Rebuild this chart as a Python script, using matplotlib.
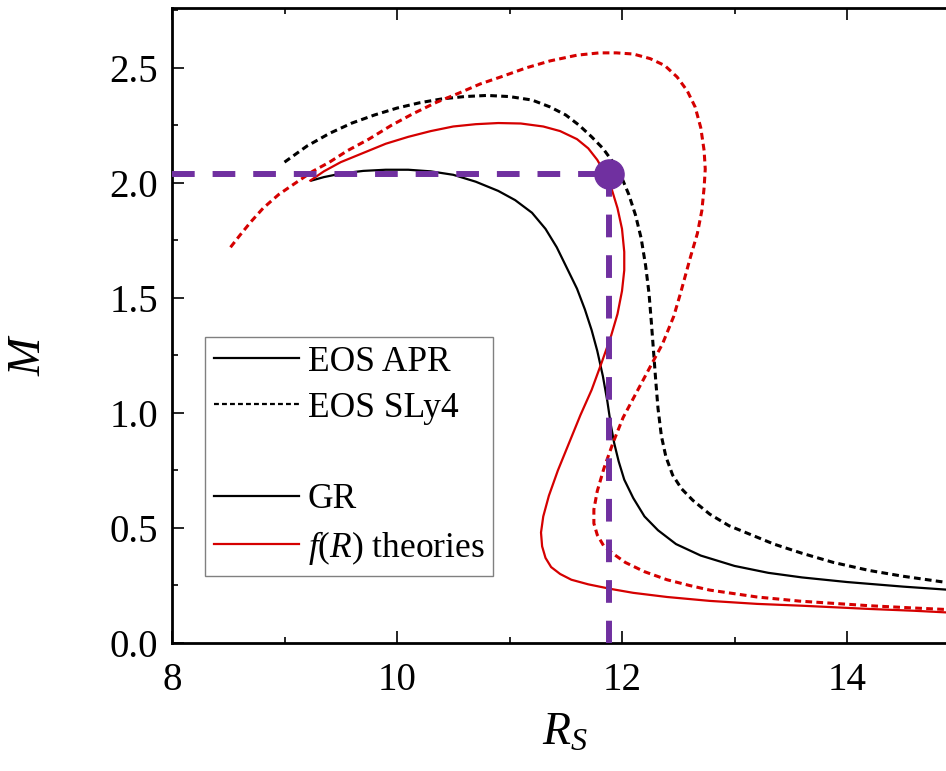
import matplotlib
matplotlib.use("Agg")
import matplotlib.pyplot as plt
from matplotlib.lines import Line2D
from matplotlib.ticker import FixedLocator, MultipleLocator, FormatStrFormatter

plt.rcParams['font.family'] = ['Liberation Serif', 'DejaVu Serif']
plt.rcParams['mathtext.fontset'] = 'custom'
plt.rcParams['mathtext.rm'] = 'Liberation Serif'
plt.rcParams['mathtext.it'] = 'Liberation Serif:italic'

# GR, EOS APR (black solid)
gr_apr_r = [9.24, 9.35, 9.5, 9.7, 9.9, 10.1, 10.3, 10.5, 10.7, 10.9, 11.05, 11.2, 11.32,
            11.42, 11.52, 11.6, 11.67, 11.73, 11.78, 11.83, 11.87, 11.9, 11.93, 11.97,
            12.02, 12.1, 12.2, 12.32, 12.48, 12.7, 13.0, 13.3, 13.6, 14.0, 14.5, 15.0]
gr_apr_m = [2.01, 2.025, 2.04, 2.052, 2.057, 2.057, 2.05, 2.035, 2.005, 1.965, 1.925, 1.87, 1.80,
            1.72, 1.62, 1.54, 1.45, 1.36, 1.27, 1.16, 1.05, 0.95, 0.87, 0.79,
            0.71, 0.63, 0.55, 0.49, 0.43, 0.38, 0.335, 0.305, 0.285, 0.265, 0.245, 0.228]

# GR, EOS SLy4 (black dashed)
gr_sly_r = [9.0, 9.2, 9.4, 9.6, 9.8, 10.0, 10.2, 10.4, 10.6, 10.8, 11.0, 11.2, 11.36,
            11.5, 11.62, 11.73, 11.83, 11.92, 12.0, 12.06, 12.12, 12.17, 12.21, 12.24,
            12.26, 12.28, 12.3, 12.32, 12.35, 12.39, 12.45, 12.53, 12.63, 12.78, 12.95,
            13.15, 13.35, 13.6, 13.88, 14.2, 14.5, 15.0]
gr_sly_m = [2.09, 2.16, 2.215, 2.26, 2.295, 2.325, 2.348, 2.365, 2.375, 2.38, 2.375, 2.36, 2.33,
            2.295, 2.25, 2.2, 2.15, 2.09, 2.02, 1.95, 1.86, 1.76, 1.64, 1.52,
            1.40, 1.27, 1.14, 1.02, 0.9, 0.81, 0.73, 0.67, 0.62, 0.56, 0.51,
            0.47, 0.43, 0.39, 0.35, 0.315, 0.29, 0.255]

# f(R), EOS APR (red solid)
fr_apr_r = [9.23, 9.35, 9.5, 9.7, 9.9, 10.1, 10.3, 10.5, 10.7, 10.9, 11.1, 11.3, 11.45,
            11.6, 11.7, 11.78, 11.85, 11.91, 11.96, 12.0, 12.02, 12.02, 12.0, 11.96, 11.9,
            11.82, 11.73, 11.63, 11.53, 11.43, 11.35, 11.3, 11.28, 11.29, 11.32, 11.37,
            11.45, 11.55, 11.7, 11.9, 12.1, 12.4, 12.78, 13.2, 13.6, 14.2, 14.6, 15.0]
fr_apr_m = [2.01, 2.05, 2.09, 2.13, 2.17, 2.2, 2.225, 2.245, 2.255, 2.26, 2.258, 2.245, 2.225,
            2.19, 2.15, 2.10, 2.04, 1.97, 1.89, 1.8, 1.7, 1.62, 1.53, 1.43, 1.33,
            1.22, 1.1, 0.99, 0.87, 0.75, 0.64, 0.55, 0.48, 0.42, 0.37, 0.33,
            0.3, 0.275, 0.255, 0.235, 0.218, 0.2, 0.183, 0.17, 0.162, 0.148, 0.14, 0.13]

# f(R), EOS SLy4 (red dashed)
fr_sly_r = [8.52, 8.6, 8.7, 8.81, 8.95, 9.1, 9.25, 9.4, 9.56, 9.75, 9.95, 10.14, 10.35,
            10.55, 10.74, 10.92, 11.15, 11.36, 11.6, 11.8, 11.95, 12.1, 12.25, 12.38, 12.49,
            12.58, 12.65, 12.7, 12.73, 12.74, 12.73, 12.71, 12.67, 12.61, 12.52, 12.46,
            12.36, 12.25, 12.13, 12.01, 11.92, 11.84, 11.78, 11.75, 11.75, 11.78, 11.84,
            11.93, 12.03, 12.2, 12.4, 12.6, 12.78, 13.2, 13.58, 14.2, 14.6, 15.0]
fr_sly_m = [1.72, 1.77, 1.83, 1.89, 1.95, 2.0, 2.05, 2.09, 2.14, 2.19, 2.25, 2.30, 2.35,
            2.39, 2.43, 2.46, 2.50, 2.53, 2.555, 2.565, 2.565, 2.56, 2.54, 2.51, 2.46,
            2.40, 2.33, 2.24, 2.14, 2.06, 1.98, 1.88, 1.78, 1.68, 1.52, 1.42,
            1.3, 1.2, 1.09, 0.98, 0.87, 0.76, 0.66, 0.58, 0.52, 0.47, 0.42,
            0.385, 0.35, 0.31, 0.275, 0.25, 0.23, 0.2, 0.182, 0.162, 0.152, 0.143]

# highlighted star
star_r = 11.885
star_m = 2.04

red = '#D50000'
purple = '#7030A0'

fig = plt.figure(figsize=(9.46, 7.71), dpi=100)
ax = fig.add_axes([172 / 946, 128 / 771, 900 / 946, 635 / 771])

ax.plot(gr_apr_r, gr_apr_m, color='black', lw=1.6, zorder=3)
ax.plot(gr_sly_r, gr_sly_m, color='black', lw=2.2, dashes=(2.2, 1.4), zorder=3)
ax.plot(fr_apr_r, fr_apr_m, color=red, lw=1.6, zorder=3)
ax.plot(fr_sly_r, fr_sly_m, color=red, lw=2.2, dashes=(2.2, 1.4), zorder=3)

ax.plot([8, star_r], [star_m, star_m], color=purple, lw=4.3, dashes=(3.8, 3.0),
        dash_capstyle='butt', zorder=4, clip_on=False)
ax.plot([star_r, star_r], [star_m, 0], color=purple, lw=4.3, dashes=(3.8, 3.0),
        dash_capstyle='butt', zorder=4)
ax.plot([star_r], [star_m], 'o', color=purple, ms=21, zorder=5)

ax.set_xlim(8, 16)
ax.set_ylim(0, 2.76)
ax.xaxis.set_major_locator(FixedLocator([8, 10, 12, 14]))
ax.xaxis.set_minor_locator(FixedLocator([9, 11, 13, 15]))
ax.yaxis.set_major_locator(MultipleLocator(0.5))
ax.yaxis.set_minor_locator(MultipleLocator(0.25))
ax.yaxis.set_major_formatter(FormatStrFormatter('%.1f'))

ax.tick_params(which='both', direction='in', top=True, right=True, width=1.2)
ax.tick_params(which='major', length=8.6, labelsize=28)
ax.tick_params(axis='x', which='major', pad=14)
ax.tick_params(axis='y', which='major', pad=10)
ax.tick_params(which='minor', length=4.5)
for sp in ax.spines.values():
    sp.set_linewidth(2)

ax.set_xlabel('$R_S$', fontsize=33)
ax.set_ylabel('$M$', fontsize=33)
ax.xaxis.set_label_coords((565 - 172) / 900, -(712 - 643) / 635)
ax.yaxis.set_label_coords(-(172 - 50) / 900, (643 - 355) / 635)

handles = [
    Line2D([], [], color='black', lw=1.6),
    Line2D([], [], color='black', lw=1.6, dashes=(2.2, 1.4)),
    Line2D([], [], color='none'),
    Line2D([], [], color='black', lw=1.6),
    Line2D([], [], color=red, lw=1.6),
]
labels = ['EOS APR', 'EOS SLy4', '', 'GR', r'$\mathit{f(R)}$ theories']
leg = ax.legend(handles, labels, loc='upper left',
                bbox_to_anchor=((205 - 172) / 900, (643 - 337) / 635),
                fontsize=25.5, frameon=True, fancybox=False, framealpha=1,
                edgecolor='#808080', borderaxespad=0, borderpad=0.25,
                labelspacing=0.36, handlelength=2.4, handletextpad=0.25)
leg.get_frame().set_linewidth(1.0)

fig.savefig('out.png', dpi=100)
